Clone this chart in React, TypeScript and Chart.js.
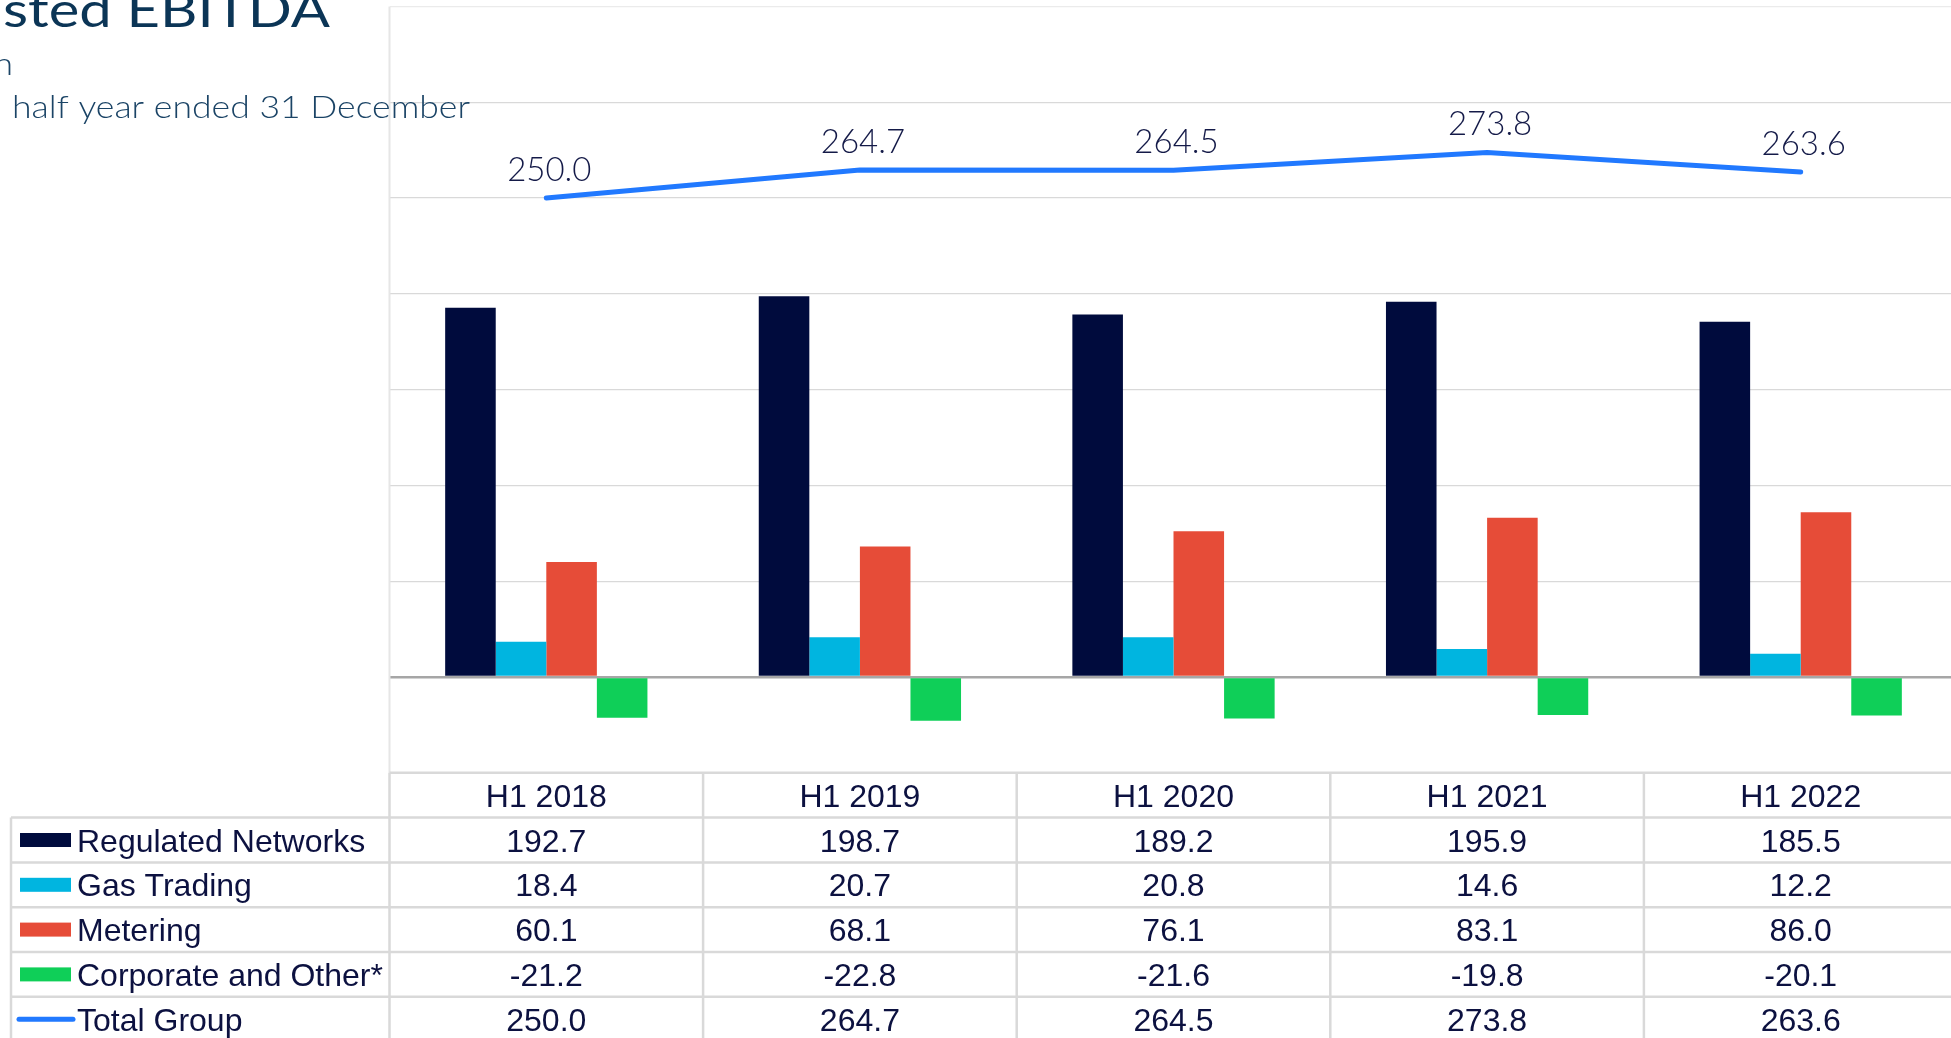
import React, { useEffect, useRef } from "react";
import { Chart, registerables } from "chart.js";

Chart.register(...registerables);

// ---------- data ----------
const categories = ["H1 2018", "H1 2019", "H1 2020", "H1 2021", "H1 2022"];
const regulatedNetworks = [192.7, 198.7, 189.2, 195.9, 185.5];
const gasTrading = [18.4, 20.7, 20.8, 14.6, 12.2];
const metering = [60.1, 68.1, 76.1, 83.1, 86.0];
const corporateOther = [-21.2, -22.8, -21.6, -19.8, -20.1];
const totalGroup = [250.0, 264.7, 264.5, 273.8, 263.6];
const seriesNames = [
  "Regulated Networks",
  "Gas Trading",
  "Metering",
  "Corporate and Other*",
  "Total Group",
];
const yMin = -50;
const yMax = 350;
const yStep = 50;

const titleText = "Adjusted EBITDA";
const unitText = "$ million";
const periodLead = "For the";
const periodText = "half year ended 31 December";

// ---------- styles ----------
const COLORS = ["#000b3d", "#00b5e0", "#e64c38", "#0fcf58", "#2179ff"];
const NAVY_TEXT = "#0c1140";
const GRID = "#d9d9d9";
const TABLE_LINE = "#d9d9d9";

const CANVAS_W = 1962;
const CANVAS_H = 1038;

const tablePlugin = {
  id: "tablePlugin",
  afterDraw(chart: any) {
    const ctx: CanvasRenderingContext2D = chart.ctx;
    const area = chart.chartArea;
    const xs = chart.scales.x;
    const n = categories.length;
    const catW = (xs.right - xs.left) / n;
    const rowH = 44.8;
    const top = area.bottom;
    const labelLeft = 11;
    const allSeries = [regulatedNetworks, gasTrading, metering, corporateOther, totalGroup];

    ctx.save();
    // plot border (left)
    ctx.strokeStyle = "#e6e6e6";
    ctx.lineWidth = 2;
    ctx.beginPath();
    ctx.moveTo(area.left, area.top);
    ctx.lineTo(area.left, area.bottom);
    ctx.stroke();

    // table lines
    ctx.strokeStyle = TABLE_LINE;
    ctx.lineWidth = 2.5;
    ctx.beginPath();
    ctx.moveTo(area.left, top);
    ctx.lineTo(CANVAS_W, top);
    for (let k = 1; k <= 6; k++) {
      const y = top + rowH * k;
      ctx.moveTo(labelLeft, y);
      ctx.lineTo(CANVAS_W, y);
    }
    for (let i = 0; i <= n; i++) {
      const x = xs.left + catW * i;
      ctx.moveTo(x, top);
      ctx.lineTo(x, CANVAS_H);
    }
    ctx.moveTo(labelLeft, top + rowH);
    ctx.lineTo(labelLeft, CANVAS_H);
    ctx.stroke();

    // header
    ctx.fillStyle = NAVY_TEXT;
    ctx.font = '32px "Liberation Sans", Arial, sans-serif';
    ctx.textAlign = "center";
    ctx.textBaseline = "alphabetic";
    const capOff = 11.5;
    categories.forEach((c, i) => {
      const cx = xs.getPixelForValue(i);
      ctx.fillText(c, cx, top + rowH / 2 + capOff);
    });

    // rows
    allSeries.forEach((vals, r) => {
      const cy = top + rowH * (r + 1) + rowH / 2;
      vals.forEach((v, i) => {
        const cx = xs.getPixelForValue(i);
        ctx.textAlign = "center";
        ctx.fillStyle = NAVY_TEXT;
        ctx.fillText(v.toFixed(1), cx, cy + capOff);
      });
      // legend key
      if (r < 4) {
        ctx.fillStyle = COLORS[r];
        ctx.fillRect(20, cy - 7, 51, 14);
      } else {
        ctx.strokeStyle = COLORS[4];
        ctx.lineWidth = 5;
        ctx.lineCap = "round";
        ctx.beginPath();
        ctx.moveTo(19, cy);
        ctx.lineTo(73, cy);
        ctx.stroke();
      }
      ctx.fillStyle = NAVY_TEXT;
      ctx.textAlign = "left";
      ctx.fillText(seriesNames[r], 77, cy + capOff);
    });

    // data labels on total line
    const meta = chart.getDatasetMeta(4);
    ctx.font = '300 33px Lato, "Open Sans", sans-serif';
    ctx.fillStyle = "#141a48";
    ctx.textAlign = "center";
    meta.data.forEach((el: any, i: number) => {
      ctx.fillText(totalGroup[i].toFixed(1), el.x + 3, el.y - 17);
    });

    // titles
    const drawScaled = (
      text: string,
      font: string,
      x: number,
      y: number,
      sx: number,
      align: CanvasTextAlign,
      color: string
    ) => {
      ctx.save();
      ctx.font = font;
      ctx.translate(x, y);
      ctx.scale(sx, 1);
      ctx.textAlign = align;
      ctx.fillStyle = color;
      ctx.fillText(text, 0, 0);
      ctx.restore();
    };
    const titleFont = '400 48px Lato, sans-serif';
    ctx.font = titleFont;
    const tsx = 327 / ctx.measureText("sted EBITDA").width;
    drawScaled(titleText, titleFont, 330, 27, tsx, "right", "#0b3556");

    const subFont = '300 32px Lato, sans-serif';
    ctx.font = subFont;
    const ssx = 458 / ctx.measureText(periodText).width;
    drawScaled(periodText, subFont, 12, 118, ssx, "left", "#1b4466");
    drawScaled(periodLead, subFont, -3, 118, ssx, "right", "#1b4466");
    drawScaled(unitText, subFont, 13, 75, ssx, "right", "#1b4466");

    ctx.restore();
  },
};

export default function App() {
  const ref = useRef<HTMLCanvasElement | null>(null);

  useEffect(() => {
    if (!ref.current) return;
    const chartBottom = 772.8;
    const chart = new Chart(ref.current, {
      type: "bar",
      data: {
        labels: categories,
        datasets: [
          { type: "bar", label: seriesNames[0], data: regulatedNetworks, backgroundColor: COLORS[0], order: 1 },
          { type: "bar", label: seriesNames[1], data: gasTrading, backgroundColor: COLORS[1], order: 1 },
          { type: "bar", label: seriesNames[2], data: metering, backgroundColor: COLORS[2], order: 1 },
          { type: "bar", label: seriesNames[3], data: corporateOther, backgroundColor: COLORS[3], order: 1 },
          {
            type: "line",
            label: seriesNames[4],
            data: totalGroup,
            borderColor: COLORS[4],
            backgroundColor: COLORS[4],
            borderWidth: 5,
            borderCapStyle: "round",
            borderJoinStyle: "round",
            pointRadius: 0,
            tension: 0,
            order: 0,
          } as any,
        ],
      },
      options: {
        responsive: false,
        animation: false,
        devicePixelRatio: 1,
        events: [],
        datasets: {
          bar: { categoryPercentage: 0.645, barPercentage: 1.0 },
        } as any,
        layout: {
          padding: {
            left: 389.5,
            top: 6.5,
            right: CANVAS_W - 1957.5,
            bottom: CANVAS_H - chartBottom,
          },
        },
        plugins: {
          legend: { display: false },
          tooltip: { enabled: false },
          title: { display: false },
        },
        scales: {
          x: { display: false },
          y: {
            display: true,
            min: yMin,
            max: yMax,
            ticks: { display: false, stepSize: yStep },
            border: { display: false },
            grid: {
              drawTicks: false,
              color: (c: any) =>
                c.tick && c.tick.value === 0 ? "#a6a6a6" : c.tick && c.tick.value === yMax ? "#ebebeb" : GRID,
              lineWidth: (c: any) => (c.tick && c.tick.value === 0 ? 2.5 : 1.2),
            },
          },
        },
      },
      plugins: [tablePlugin],
    });
    return () => chart.destroy();
  }, []);

  return (
    <div
      style={{
        position: "fixed",
        left: 0,
        top: 0,
        width: 1951,
        height: 1038,
        overflow: "hidden",
        background: "#ffffff",
      }}
    >
      <canvas
        ref={ref}
        width={CANVAS_W}
        height={CANVAS_H}
        style={{ display: "block", width: CANVAS_W, height: CANVAS_H }}
      />
    </div>
  );
}
